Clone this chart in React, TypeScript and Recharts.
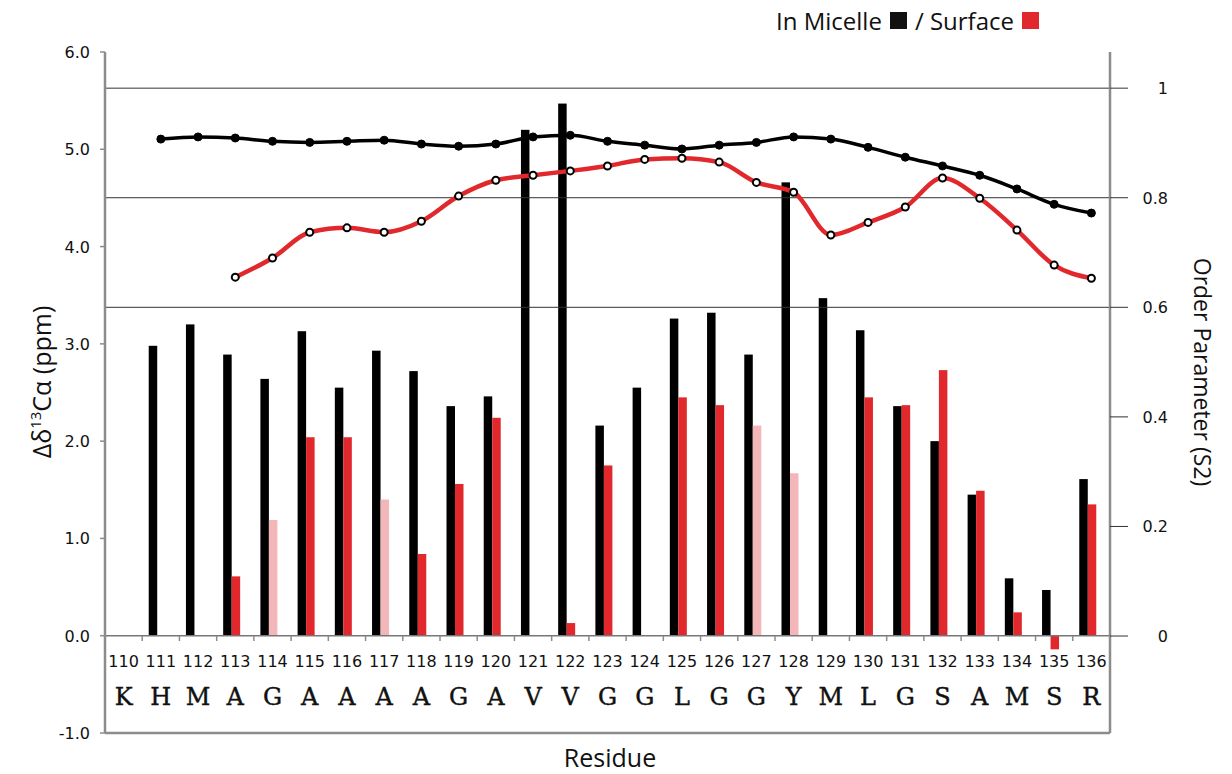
import { Bar, Cell, ComposedChart, Legend, Line, ReferenceLine, XAxis, YAxis } from "recharts";

const residues = ["110", "111", "112", "113", "114", "115", "116", "117", "118", "119", "120", "121", "122", "123", "124", "125", "126", "127", "128", "129", "130", "131", "132", "133", "134", "135", "136"];
const letters = ["K", "H", "M", "A", "G", "A", "A", "A", "A", "G", "A", "V", "V", "G", "G", "L", "G", "G", "Y", "M", "L", "G", "S", "A", "M", "S", "R"];

// chemical shift change (ppm)
const micelleShift = [null, 2.98, 3.2, 2.89, 2.64, 3.13, 2.55, 2.93, 2.72, 2.36, 2.46, 5.2, 5.47, 2.16, 2.55, 3.26, 3.32, 2.89, 4.66, 3.47, 3.14, 2.36, 2.0, 1.45, 0.59, 0.47, 1.61];
const surfaceShift = [null, null, null, 0.61, 1.19, 2.04, 2.04, 1.4, 0.84, 1.56, 2.24, null, 0.13, 1.75, null, 2.45, 2.37, 2.16, 1.67, null, 2.45, 2.37, 2.73, 1.49, 0.24, -0.14, 1.35];
const fadedSurface = ["114", "117", "127", "128"];

// order parameter S2
const micelleS2 = [null, 0.907, 0.911, 0.909, 0.903, 0.901, 0.903, 0.905, 0.898, 0.894, 0.898, 0.911, 0.914, 0.903, 0.896, 0.889, 0.896, 0.901, 0.911, 0.907, 0.892, 0.874, 0.858, 0.841, 0.816, 0.788, 0.772];
const surfaceS2 = [null, null, null, 0.655, 0.69, 0.737, 0.745, 0.737, 0.757, 0.803, 0.832, 0.841, 0.849, 0.858, 0.87, 0.872, 0.865, 0.828, 0.81, 0.732, 0.755, 0.783, 0.836, 0.799, 0.741, 0.677, 0.653];

const leftTicks = [-1, 0, 1, 2, 3, 4, 5, 6];
const rightTicks = [0, 0.2, 0.4, 0.6, 0.8, 1];
const gridS2 = [1, 0.8, 0.6];

const data = residues.map((r, i) => ({
  res: r,
  letter: letters[i],
  micelleShift: micelleShift[i],
  surfaceShift: surfaceShift[i],
  micelleS2: micelleS2[i],
  surfaceS2: surfaceS2[i],
}));

const FRAME = "#8c8c8c";
const RED = "#e1282d";
const PINK = "#f4b7b9";
const PLOT_WIDTH = 1005;
const BAND = PLOT_WIDTH / residues.length;
const tickFont = "'DejaVu Sans', Verdana, sans-serif";
const titleFont = "'Open Sans', 'Noto Sans', sans-serif";

const ShiftedBar = (p: any) => {
  if (p.height == null || p.width == null) return null;
  const y = Math.min(p.y, p.y + p.height);
  const h = Math.abs(p.height);
  return <rect x={p.x - 3.5} y={y} width={p.width} height={h} fill={p.fill} />;
};

const ResidueTick = ({ x, y, payload, index }: any) => {
  const i = residues.indexOf(payload.value);
  return (
    <g>
      {index > 0 && (
        <line x1={x - BAND / 2} x2={x - BAND / 2} y1={636} y2={641} stroke={FRAME} strokeWidth={1.5} />
      )}
      <text x={x} y={y - 66} textAnchor="middle" fontFamily={tickFont} fontSize={16} fill="#111">
        {payload.value}
      </text>
      <text x={x} y={y - 28} textAnchor="middle" fontFamily="'DejaVu Serif', 'Liberation Serif', serif" fontSize={24} fill="#111" stroke="#111" strokeWidth={0.4}>
        {letters[i]}
      </text>
    </g>
  );
};

const LeftTick = ({ x, y, payload }: any) => (
  <text x={x} y={y + 6} textAnchor="end" fontFamily={tickFont} fontSize={16} fill="#111">
    {payload.value.toFixed(1)}
  </text>
);

const RightTick = ({ y, payload }: any) => (
  <text x={1168} y={y + 6} textAnchor="end" fontFamily={tickFont} fontSize={16} fill="#111">
    {payload.value === 0 || payload.value === 1 ? payload.value : payload.value.toFixed(1)}
  </text>
);

const LeftTitle = () => {
  const cx = 42;
  const cy = 382;
  return (
    <text transform={`rotate(-90, ${cx}, ${cy})`} x={cx} y={cy + 9} textAnchor="middle" fontFamily={titleFont} fontSize={25} fill="#111">
      Δδ<tspan fontSize={15} dy={-10}>13</tspan>
      <tspan dy={10}>Cα (ppm)</tspan>
    </text>
  );
};

const RightTitle = () => {
  const cx = 1202;
  const cy = 372;
  return (
    <text transform={`rotate(90, ${cx}, ${cy})`} x={cx} y={cy + 8} textAnchor="middle" fontFamily={titleFont} fontSize={23} fill="#111">
      Order Parameter (S2)
    </text>
  );
};

const BottomTitle = () => (
  <text x={610} y={767} textAnchor="middle" fontFamily={titleFont} fontSize={25} fill="#111">
    Residue
  </text>
);

const LegendBox = () => (
  <div style={{ fontFamily: titleFont, fontSize: 24, color: "#111", whiteSpace: "nowrap", display: "flex", alignItems: "center" }}>
    <span>In Micelle</span>
    <span style={{ display: "inline-block", width: 17, height: 17, background: "#111", margin: "0 8px 0 8px" }} />
    <span>/ Surface</span>
    <span style={{ display: "inline-block", width: 17, height: 17, background: RED, marginLeft: 8 }} />
  </div>
);

export default function App() {
  return (
    <div style={{ position: "absolute", left: 0, top: 0, background: "#fff" }}>
      <ComposedChart
        width={1232}
        height={774}
        data={data}
        margin={{ top: 52, right: 0, bottom: 0, left: 0 }}
        barGap={0}
        barSize={8.5}
      >
        <Legend
          layout="horizontal"
          verticalAlign="middle"
          align="center"
          content={<LegendBox />}
          wrapperStyle={{ position: "absolute", top: 4, left: 776, width: "auto" }}
        />
        <XAxis
          dataKey="res"
          height={41}
          axisLine={{ stroke: FRAME, strokeWidth: 2.5 }}
          tickLine={false}
          tickSize={0}
          tickMargin={0}
          interval={0}
          tick={<ResidueTick />}
          label={<BottomTitle />}
        />
        <XAxis xAxisId="top" dataKey="res" orientation="top" height={0} tick={false} tickLine={false} axisLine={{ stroke: FRAME, strokeWidth: 2.5 }} />
        <YAxis
          yAxisId="left"
          width={105}
          domain={[-1, 6]}
          ticks={leftTicks}
          interval={0}
          axisLine={{ stroke: FRAME, strokeWidth: 2.5 }}
          tickLine={{ stroke: FRAME, strokeWidth: 1.5 }}
          tickSize={5}
          tickMargin={10}
          tick={<LeftTick />}
          label={<LeftTitle />}
        />
        <YAxis
          yAxisId="right"
          orientation="right"
          width={122}
          domain={[-0.177, 1.066]}
          ticks={rightTicks}
          interval={0}
          allowDataOverflow
          axisLine={{ stroke: FRAME, strokeWidth: 2.5 }}
          tickLine={{ stroke: "#333", strokeWidth: 1 }}
          tickSize={18}
          tick={<RightTick />}
          label={<RightTitle />}
        />
        {gridS2.map((v) => (
          <ReferenceLine key={v} yAxisId="right" y={v} stroke="#333" strokeWidth={1} />
        ))}
        <ReferenceLine yAxisId="left" y={0} stroke="#777" strokeWidth={1.5} />
        <Bar yAxisId="left" dataKey="micelleShift" fill="#000" isAnimationActive={false} shape={ShiftedBar} />
        <Bar yAxisId="left" dataKey="surfaceShift" fill={RED} isAnimationActive={false} shape={ShiftedBar}>
          {data.map((d) => (
            <Cell key={d.res} fill={fadedSurface.includes(d.res) ? PINK : RED} />
          ))}
        </Bar>
        <Line
          yAxisId="right"
          dataKey="micelleS2"
          type="monotone"
          stroke="#000"
          strokeWidth={3.5}
          dot={{ r: 4, fill: "#000", stroke: "#000", strokeWidth: 1 }}
          isAnimationActive={false}
        />
        <Line
          yAxisId="right"
          dataKey="surfaceS2"
          type="monotone"
          stroke={RED}
          strokeWidth={4.5}
          dot={{ r: 3.5, fill: "#fff", stroke: "#000", strokeWidth: 2 }}
          isAnimationActive={false}
        />
      </ComposedChart>
    </div>
  );
}
